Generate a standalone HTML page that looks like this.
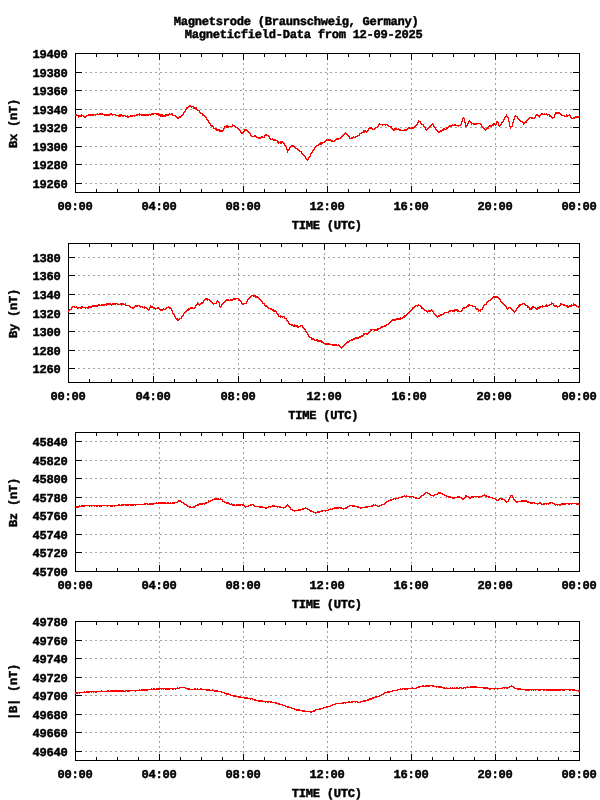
<!DOCTYPE html>
<html lang="en"><head><meta charset="utf-8"><title>Magnetsrode Magneticfield-Data</title>
<style>
html,body{margin:0;padding:0;background:#fff;}
svg{display:block;}
text{white-space:pre;text-rendering:geometricPrecision;stroke:#000;stroke-width:0.45px;stroke-linejoin:miter;}
</style></head>
<body>
<svg width="600" height="800" viewBox="0 0 600 800" shape-rendering="crispEdges" font-family="Liberation Mono, DejaVu Sans Mono, monospace" font-weight="bold" font-size="12.1" letter-spacing="-0.26" fill="#000">
<rect width="600" height="800" fill="#fff"/>
<text x="173.7" y="25">Magnetsrode (Braunschweig, Germany)</text>
<text x="184.7" y="38">Magneticfield-Data from 12-09-2025</text>
<g stroke="#a0a0a0" stroke-width="1" stroke-dasharray="2 3" fill="none"><line x1="75" y1="72.5" x2="579" y2="72.5"/><line x1="75" y1="90.5" x2="579" y2="90.5"/><line x1="75" y1="109.5" x2="579" y2="109.5"/><line x1="75" y1="127.5" x2="579" y2="127.5"/><line x1="75" y1="146.5" x2="579" y2="146.5"/><line x1="75" y1="164.5" x2="579" y2="164.5"/><line x1="75" y1="183.5" x2="579" y2="183.5"/><line x1="159.5" y1="53" x2="159.5" y2="192"/><line x1="243.5" y1="53" x2="243.5" y2="192"/><line x1="327.5" y1="53" x2="327.5" y2="192"/><line x1="411.5" y1="53" x2="411.5" y2="192"/><line x1="495.5" y1="53" x2="495.5" y2="192"/></g>
<path d="M75.5 53.5H579.5V192.5H75.5ZM75 53.5h7M580 53.5h-7M75 72.5h7M580 72.5h-7M75 90.5h7M580 90.5h-7M75 109.5h7M580 109.5h-7M75 127.5h7M580 127.5h-7M75 146.5h7M580 146.5h-7M75 164.5h7M580 164.5h-7M75 183.5h7M580 183.5h-7M96.5 53v4M96.5 193v-4M117.5 53v4M117.5 193v-4M138.5 53v4M138.5 193v-4M159.5 53v7M159.5 193v-7M180.5 53v4M180.5 193v-4M201.5 53v4M201.5 193v-4M222.5 53v4M222.5 193v-4M243.5 53v7M243.5 193v-7M264.5 53v4M264.5 193v-4M285.5 53v4M285.5 193v-4M306.5 53v4M306.5 193v-4M327.5 53v7M327.5 193v-7M348.5 53v4M348.5 193v-4M369.5 53v4M369.5 193v-4M390.5 53v4M390.5 193v-4M411.5 53v7M411.5 193v-7M432.5 53v4M432.5 193v-4M453.5 53v4M453.5 193v-4M474.5 53v4M474.5 193v-4M495.5 53v7M495.5 193v-7M516.5 53v4M516.5 193v-4M537.5 53v4M537.5 193v-4M558.5 53v4M558.5 193v-4" stroke="#000" stroke-width="1" fill="none"/>
<path d="M75 114h1v2h-1zM76 114h1v2h-1zM77 115h1v1h-1zM78 115h1v3h-1zM79 115h1v2h-1zM80 115h1v2h-1zM81 114h1v3h-1zM82 115h1v1h-1zM83 115h1v2h-1zM84 116h1v2h-1zM85 116h1v2h-1zM86 115h1v2h-1zM87 115h1v1h-1zM88 114h1v2h-1zM89 114h1v2h-1zM90 114h1v2h-1zM91 114h1v2h-1zM92 114h1v2h-1zM93 114h1v2h-1zM94 114h1v1h-1zM95 114h1v2h-1zM96 114h1v1h-1zM97 113h1v2h-1zM98 114h1v1h-1zM99 113h1v2h-1zM100 113h1v2h-1zM101 113h1v2h-1zM102 113h1v2h-1zM103 114h1v1h-1zM104 114h1v2h-1zM105 114h1v2h-1zM106 114h1v2h-1zM107 114h1v2h-1zM108 114h1v2h-1zM109 114h1v2h-1zM110 113h1v2h-1zM111 113h1v2h-1zM112 114h1v2h-1zM113 114h1v1h-1zM114 114h1v1h-1zM115 114h1v2h-1zM116 115h1v1h-1zM117 115h1v1h-1zM118 115h1v2h-1zM119 114h1v3h-1zM120 114h1v3h-1zM121 114h1v2h-1zM122 115h1v2h-1zM123 115h1v2h-1zM124 115h1v1h-1zM125 115h1v2h-1zM126 116h1v1h-1zM127 115h1v3h-1zM128 116h1v2h-1zM129 116h1v1h-1zM130 115h1v2h-1zM131 115h1v2h-1zM132 115h1v2h-1zM133 115h1v1h-1zM134 115h1v2h-1zM135 115h1v1h-1zM136 114h1v2h-1zM137 114h1v2h-1zM138 114h1v1h-1zM139 113h1v3h-1zM140 114h1v1h-1zM141 114h1v2h-1zM142 114h1v2h-1zM143 114h1v2h-1zM144 114h1v2h-1zM145 114h1v2h-1zM146 114h1v2h-1zM147 114h1v2h-1zM148 114h1v2h-1zM149 114h1v1h-1zM150 114h1v2h-1zM151 113h1v2h-1zM152 113h1v2h-1zM153 113h1v2h-1zM154 113h1v1h-1zM155 113h1v1h-1zM156 113h1v2h-1zM157 113h1v2h-1zM158 113h1v3h-1zM159 114h1v2h-1zM160 114h1v3h-1zM161 114h1v3h-1zM162 114h1v3h-1zM163 115h1v2h-1zM164 115h1v2h-1zM165 114h1v3h-1zM166 114h1v2h-1zM167 114h1v2h-1zM168 114h1v2h-1zM169 113h1v2h-1zM170 114h1v1h-1zM171 113h1v2h-1zM172 113h1v3h-1zM173 115h1v1h-1zM174 115h1v1h-1zM175 115h1v2h-1zM176 116h1v2h-1zM177 117h1v2h-1zM178 117h1v2h-1zM179 116h1v2h-1zM180 116h1v2h-1zM181 115h1v2h-1zM182 114h1v2h-1zM183 112h1v3h-1zM184 111h1v2h-1zM185 109h1v3h-1zM186 107h1v3h-1zM187 107h1v2h-1zM188 106h1v2h-1zM189 105h1v2h-1zM190 105h1v2h-1zM191 106h1v2h-1zM192 106h1v1h-1zM193 106h1v3h-1zM194 107h1v2h-1zM195 107h1v2h-1zM196 107h1v3h-1zM197 109h1v2h-1zM198 110h1v1h-1zM199 110h1v3h-1zM200 112h1v2h-1zM201 113h1v1h-1zM202 113h1v3h-1zM203 114h1v2h-1zM204 115h1v2h-1zM205 116h1v2h-1zM206 117h1v3h-1zM207 119h1v2h-1zM208 120h1v3h-1zM209 122h1v2h-1zM210 123h1v3h-1zM211 125h1v2h-1zM212 125h1v2h-1zM213 126h1v3h-1zM214 128h1v1h-1zM215 128h1v2h-1zM216 128h1v3h-1zM217 129h1v2h-1zM218 129h1v2h-1zM219 129h1v3h-1zM220 130h1v2h-1zM221 130h1v2h-1zM222 130h1v2h-1zM223 128h1v3h-1zM224 126h1v3h-1zM225 126h1v1h-1zM226 125h1v3h-1zM227 125h1v3h-1zM228 126h1v2h-1zM229 126h1v1h-1zM230 126h1v1h-1zM231 126h1v1h-1zM232 124h1v3h-1zM233 125h1v1h-1zM234 125h1v2h-1zM235 126h1v2h-1zM236 127h1v1h-1zM237 127h1v2h-1zM238 128h1v2h-1zM239 129h1v2h-1zM240 130h1v3h-1zM241 132h1v2h-1zM242 132h1v2h-1zM243 131h1v2h-1zM244 129h1v3h-1zM245 129h1v2h-1zM246 129h1v2h-1zM247 130h1v2h-1zM248 131h1v2h-1zM249 132h1v2h-1zM250 133h1v3h-1zM251 135h1v2h-1zM252 136h1v1h-1zM253 136h1v1h-1zM254 135h1v2h-1zM255 135h1v2h-1zM256 136h1v2h-1zM257 137h1v1h-1zM258 137h1v2h-1zM259 137h1v2h-1zM260 137h1v2h-1zM261 136h1v2h-1zM262 136h1v2h-1zM263 137h1v1h-1zM264 135h1v3h-1zM265 134h1v2h-1zM266 134h1v2h-1zM267 135h1v1h-1zM268 135h1v2h-1zM269 136h1v3h-1zM270 138h1v2h-1zM271 139h1v1h-1zM272 138h1v2h-1zM273 139h1v2h-1zM274 139h1v2h-1zM275 139h1v2h-1zM276 140h1v1h-1zM277 140h1v3h-1zM278 141h1v3h-1zM279 142h1v1h-1zM280 141h1v3h-1zM281 141h1v3h-1zM282 141h1v2h-1zM283 142h1v2h-1zM284 143h1v3h-1zM285 145h1v2h-1zM286 146h1v4h-1zM287 149h1v4h-1zM288 149h1v2h-1zM289 147h1v3h-1zM290 146h1v2h-1zM291 145h1v2h-1zM292 145h1v2h-1zM293 145h1v2h-1zM294 146h1v2h-1zM295 147h1v2h-1zM296 148h1v1h-1zM297 148h1v2h-1zM298 149h1v2h-1zM299 150h1v2h-1zM300 151h1v1h-1zM301 151h1v3h-1zM302 153h1v2h-1zM303 154h1v2h-1zM304 155h1v2h-1zM305 156h1v3h-1zM306 158h1v2h-1zM307 159h1v2h-1zM308 157h1v3h-1zM309 156h1v2h-1zM310 153h1v4h-1zM311 152h1v2h-1zM312 150h1v3h-1zM313 149h1v2h-1zM314 147h1v3h-1zM315 146h1v2h-1zM316 145h1v2h-1zM317 145h1v1h-1zM318 144h1v2h-1zM319 143h1v2h-1zM320 142h1v3h-1zM321 142h1v3h-1zM322 142h1v2h-1zM323 142h1v1h-1zM324 141h1v2h-1zM325 140h1v2h-1zM326 139h1v2h-1zM327 140h1v1h-1zM328 139h1v2h-1zM329 139h1v2h-1zM330 139h1v2h-1zM331 140h1v2h-1zM332 140h1v2h-1zM333 141h1v1h-1zM334 140h1v2h-1zM335 139h1v2h-1zM336 138h1v2h-1zM337 138h1v2h-1zM338 138h1v2h-1zM339 138h1v1h-1zM340 137h1v2h-1zM341 136h1v2h-1zM342 135h1v2h-1zM343 134h1v2h-1zM344 133h1v2h-1zM345 132h1v2h-1zM346 133h1v2h-1zM347 134h1v2h-1zM348 135h1v2h-1zM349 136h1v3h-1zM350 138h1v1h-1zM351 137h1v2h-1zM352 137h1v2h-1zM353 136h1v2h-1zM354 137h1v1h-1zM355 136h1v2h-1zM356 136h1v1h-1zM357 135h1v2h-1zM358 135h1v1h-1zM359 133h1v3h-1zM360 133h1v1h-1zM361 132h1v2h-1zM362 132h1v1h-1zM363 130h1v3h-1zM364 130h1v3h-1zM365 130h1v2h-1zM366 131h1v2h-1zM367 130h1v2h-1zM368 128h1v3h-1zM369 127h1v2h-1zM370 127h1v2h-1zM371 127h1v2h-1zM372 128h1v2h-1zM373 129h1v1h-1zM374 128h1v2h-1zM375 127h1v2h-1zM376 127h1v1h-1zM377 126h1v2h-1zM378 124h1v3h-1zM379 123h1v2h-1zM380 124h1v1h-1zM381 124h1v1h-1zM382 124h1v2h-1zM383 124h1v1h-1zM384 124h1v1h-1zM385 124h1v2h-1zM386 124h1v1h-1zM387 124h1v2h-1zM388 125h1v2h-1zM389 126h1v1h-1zM390 126h1v2h-1zM391 126h1v3h-1zM392 128h1v2h-1zM393 129h1v2h-1zM394 128h1v3h-1zM395 128h1v2h-1zM396 128h1v2h-1zM397 129h1v1h-1zM398 128h1v2h-1zM399 129h1v2h-1zM400 129h1v2h-1zM401 130h1v1h-1zM402 130h1v1h-1zM403 130h1v1h-1zM404 129h1v2h-1zM405 129h1v2h-1zM406 129h1v2h-1zM407 128h1v2h-1zM408 127h1v2h-1zM409 127h1v2h-1zM410 128h1v1h-1zM411 127h1v2h-1zM412 127h1v2h-1zM413 127h1v2h-1zM414 126h1v2h-1zM415 125h1v2h-1zM416 124h1v2h-1zM417 122h1v3h-1zM418 120h1v3h-1zM419 121h1v1h-1zM420 121h1v3h-1zM421 123h1v2h-1zM422 124h1v1h-1zM423 124h1v3h-1zM424 126h1v2h-1zM425 127h1v3h-1zM426 129h1v2h-1zM427 128h1v2h-1zM428 127h1v2h-1zM429 126h1v2h-1zM430 125h1v2h-1zM431 124h1v2h-1zM432 123h1v2h-1zM433 124h1v3h-1zM434 126h1v2h-1zM435 127h1v3h-1zM436 129h1v2h-1zM437 130h1v2h-1zM438 131h1v2h-1zM439 131h1v2h-1zM440 130h1v2h-1zM441 130h1v2h-1zM442 129h1v2h-1zM443 128h1v3h-1zM444 128h1v2h-1zM445 129h1v1h-1zM446 127h1v3h-1zM447 127h1v2h-1zM448 126h1v2h-1zM449 125h1v2h-1zM450 125h1v2h-1zM451 125h1v2h-1zM452 124h1v2h-1zM453 125h1v1h-1zM454 124h1v2h-1zM455 124h1v2h-1zM456 125h1v1h-1zM457 125h1v1h-1zM458 125h1v2h-1zM459 125h1v1h-1zM460 124h1v2h-1zM461 121h1v4h-1zM462 118h1v4h-1zM463 117h1v2h-1zM464 118h1v5h-1zM465 122h1v5h-1zM466 125h1v2h-1zM467 123h1v3h-1zM468 121h1v3h-1zM469 120h1v2h-1zM470 121h1v2h-1zM471 122h1v3h-1zM472 123h1v1h-1zM473 123h1v2h-1zM474 123h1v2h-1zM475 123h1v2h-1zM476 123h1v2h-1zM477 123h1v1h-1zM478 123h1v1h-1zM479 123h1v1h-1zM480 123h1v2h-1zM481 124h1v3h-1zM482 126h1v2h-1zM483 127h1v2h-1zM484 128h1v2h-1zM485 129h1v2h-1zM486 128h1v2h-1zM487 127h1v2h-1zM488 126h1v3h-1zM489 125h1v2h-1zM490 125h1v2h-1zM491 125h1v2h-1zM492 124h1v2h-1zM493 123h1v3h-1zM494 123h1v2h-1zM495 124h1v2h-1zM496 121h1v4h-1zM497 121h1v2h-1zM498 122h1v4h-1zM499 125h1v2h-1zM500 124h1v2h-1zM501 122h1v3h-1zM502 121h1v2h-1zM503 119h1v3h-1zM504 117h1v3h-1zM505 116h1v2h-1zM506 114h1v3h-1zM507 116h1v2h-1zM508 117h1v5h-1zM509 121h1v6h-1zM510 126h1v3h-1zM511 126h1v1h-1zM512 122h1v5h-1zM513 119h1v4h-1zM514 116h1v4h-1zM515 115h1v2h-1zM516 116h1v1h-1zM517 116h1v3h-1zM518 118h1v2h-1zM519 119h1v2h-1zM520 120h1v2h-1zM521 121h1v1h-1zM522 121h1v2h-1zM523 122h1v3h-1zM524 122h1v2h-1zM525 121h1v2h-1zM526 120h1v3h-1zM527 119h1v2h-1zM528 118h1v2h-1zM529 117h1v2h-1zM530 117h1v1h-1zM531 117h1v2h-1zM532 117h1v2h-1zM533 118h1v1h-1zM534 117h1v2h-1zM535 115h1v3h-1zM536 114h1v2h-1zM537 114h1v2h-1zM538 115h1v2h-1zM539 115h1v3h-1zM540 114h1v2h-1zM541 113h1v2h-1zM542 113h1v2h-1zM543 114h1v1h-1zM544 113h1v2h-1zM545 114h1v1h-1zM546 113h1v2h-1zM547 114h1v2h-1zM548 114h1v1h-1zM549 114h1v3h-1zM550 115h1v2h-1zM551 116h1v2h-1zM552 117h1v2h-1zM553 117h1v1h-1zM554 114h1v4h-1zM555 112h1v3h-1zM556 112h1v2h-1zM557 112h1v2h-1zM558 112h1v2h-1zM559 112h1v2h-1zM560 113h1v2h-1zM561 114h1v2h-1zM562 115h1v1h-1zM563 115h1v1h-1zM564 115h1v2h-1zM565 116h1v1h-1zM566 114h1v3h-1zM567 115h1v2h-1zM568 115h1v1h-1zM569 114h1v2h-1zM570 115h1v3h-1zM571 117h1v2h-1zM572 118h1v1h-1zM573 117h1v2h-1zM574 117h1v2h-1zM575 116h1v2h-1zM576 116h1v2h-1zM577 116h1v2h-1zM578 116h1v2h-1zM579 116h1v1h-1z" fill="#ff0000"/>
<text x="67.5" y="58" text-anchor="end">19400</text><text x="67.5" y="77" text-anchor="end">19380</text><text x="67.5" y="95" text-anchor="end">19360</text><text x="67.5" y="114" text-anchor="end">19340</text><text x="67.5" y="132" text-anchor="end">19320</text><text x="67.5" y="151" text-anchor="end">19300</text><text x="67.5" y="169" text-anchor="end">19280</text><text x="67.5" y="188" text-anchor="end">19260</text><text x="57.6" y="210">00:00</text><text x="141.6" y="210">04:00</text><text x="225.6" y="210">08:00</text><text x="309.6" y="210">12:00</text><text x="393.6" y="210">16:00</text><text x="477.6" y="210">20:00</text><text x="561.6" y="210">00:00</text><text x="291.7" y="229">TIME (UTC)</text><text transform="translate(17 148) rotate(-90)">Bx (nT)</text>
<g stroke="#a0a0a0" stroke-width="1" stroke-dasharray="2 3" fill="none"><line x1="68" y1="257.5" x2="579" y2="257.5"/><line x1="68" y1="275.5" x2="579" y2="275.5"/><line x1="68" y1="294.5" x2="579" y2="294.5"/><line x1="68" y1="313.5" x2="579" y2="313.5"/><line x1="68" y1="331.5" x2="579" y2="331.5"/><line x1="68" y1="350.5" x2="579" y2="350.5"/><line x1="68" y1="368.5" x2="579" y2="368.5"/><line x1="153.5" y1="243" x2="153.5" y2="382"/><line x1="238.5" y1="243" x2="238.5" y2="382"/><line x1="324.5" y1="243" x2="324.5" y2="382"/><line x1="409.5" y1="243" x2="409.5" y2="382"/><line x1="494.5" y1="243" x2="494.5" y2="382"/></g>
<path d="M68.5 243.5H579.5V382.5H68.5ZM68 257.5h7M580 257.5h-7M68 275.5h7M580 275.5h-7M68 294.5h7M580 294.5h-7M68 313.5h7M580 313.5h-7M68 331.5h7M580 331.5h-7M68 350.5h7M580 350.5h-7M68 368.5h7M580 368.5h-7M89.5 243v4M89.5 383v-4M111.5 243v4M111.5 383v-4M132.5 243v4M132.5 383v-4M153.5 243v7M153.5 383v-7M174.5 243v4M174.5 383v-4M196.5 243v4M196.5 383v-4M217.5 243v4M217.5 383v-4M238.5 243v7M238.5 383v-7M260.5 243v4M260.5 383v-4M281.5 243v4M281.5 383v-4M302.5 243v4M302.5 383v-4M324.5 243v7M324.5 383v-7M345.5 243v4M345.5 383v-4M366.5 243v4M366.5 383v-4M387.5 243v4M387.5 383v-4M409.5 243v7M409.5 383v-7M430.5 243v4M430.5 383v-4M451.5 243v4M451.5 383v-4M473.5 243v4M473.5 383v-4M494.5 243v7M494.5 383v-7M515.5 243v4M515.5 383v-4M536.5 243v4M536.5 383v-4M558.5 243v4M558.5 383v-4" stroke="#000" stroke-width="1" fill="none"/>
<path d="M68 310h1v2h-1zM69 309h1v2h-1zM70 309h1v1h-1zM71 307h1v3h-1zM72 306h1v2h-1zM73 306h1v1h-1zM74 306h1v2h-1zM75 307h1v1h-1zM76 306h1v2h-1zM77 307h1v2h-1zM78 307h1v2h-1zM79 307h1v1h-1zM80 307h1v2h-1zM81 306h1v3h-1zM82 306h1v2h-1zM83 307h1v1h-1zM84 307h1v1h-1zM85 307h1v2h-1zM86 307h1v1h-1zM87 307h1v2h-1zM88 306h1v3h-1zM89 306h1v2h-1zM90 306h1v2h-1zM91 306h1v2h-1zM92 305h1v2h-1zM93 305h1v2h-1zM94 305h1v2h-1zM95 305h1v2h-1zM96 305h1v2h-1zM97 305h1v2h-1zM98 304h1v2h-1zM99 304h1v2h-1zM100 305h1v1h-1zM101 304h1v2h-1zM102 304h1v2h-1zM103 304h1v2h-1zM104 304h1v2h-1zM105 304h1v1h-1zM106 303h1v3h-1zM107 303h1v2h-1zM108 303h1v2h-1zM109 303h1v2h-1zM110 303h1v2h-1zM111 304h1v2h-1zM112 303h1v2h-1zM113 303h1v2h-1zM114 303h1v2h-1zM115 303h1v2h-1zM116 303h1v1h-1zM117 303h1v2h-1zM118 304h1v1h-1zM119 304h1v1h-1zM120 303h1v2h-1zM121 303h1v3h-1zM122 303h1v2h-1zM123 303h1v2h-1zM124 304h1v1h-1zM125 303h1v3h-1zM126 305h1v1h-1zM127 305h1v1h-1zM128 305h1v1h-1zM129 305h1v2h-1zM130 306h1v2h-1zM131 307h1v1h-1zM132 307h1v2h-1zM133 307h1v2h-1zM134 306h1v2h-1zM135 305h1v2h-1zM136 305h1v2h-1zM137 305h1v2h-1zM138 305h1v1h-1zM139 305h1v2h-1zM140 306h1v2h-1zM141 306h1v1h-1zM142 306h1v2h-1zM143 307h1v1h-1zM144 306h1v3h-1zM145 307h1v1h-1zM146 307h1v2h-1zM147 308h1v2h-1zM148 309h1v2h-1zM149 307h1v3h-1zM150 305h1v3h-1zM151 306h1v2h-1zM152 306h1v2h-1zM153 307h1v2h-1zM154 307h1v2h-1zM155 308h1v2h-1zM156 308h1v1h-1zM157 307h1v2h-1zM158 307h1v2h-1zM159 308h1v2h-1zM160 309h1v2h-1zM161 309h1v2h-1zM162 309h1v2h-1zM163 308h1v2h-1zM164 309h1v1h-1zM165 308h1v2h-1zM166 307h1v2h-1zM167 307h1v1h-1zM168 306h1v2h-1zM169 307h1v2h-1zM170 307h1v2h-1zM171 308h1v3h-1zM172 310h1v4h-1zM173 313h1v2h-1zM174 314h1v3h-1zM175 316h1v3h-1zM176 318h1v2h-1zM177 318h1v3h-1zM178 319h1v2h-1zM179 318h1v2h-1zM180 318h1v1h-1zM181 316h1v3h-1zM182 315h1v2h-1zM183 313h1v3h-1zM184 312h1v2h-1zM185 311h1v2h-1zM186 310h1v2h-1zM187 309h1v2h-1zM188 308h1v3h-1zM189 308h1v2h-1zM190 307h1v2h-1zM191 307h1v2h-1zM192 307h1v2h-1zM193 308h1v1h-1zM194 307h1v2h-1zM195 305h1v3h-1zM196 304h1v2h-1zM197 302h1v3h-1zM198 303h1v2h-1zM199 304h1v2h-1zM200 303h1v2h-1zM201 302h1v2h-1zM202 302h1v2h-1zM203 300h1v3h-1zM204 299h1v2h-1zM205 298h1v2h-1zM206 298h1v2h-1zM207 298h1v3h-1zM208 299h1v1h-1zM209 299h1v2h-1zM210 300h1v2h-1zM211 301h1v2h-1zM212 302h1v2h-1zM213 303h1v2h-1zM214 303h1v1h-1zM215 303h1v1h-1zM216 301h1v3h-1zM217 300h1v2h-1zM218 301h1v2h-1zM219 302h1v5h-1zM220 306h1v2h-1zM221 304h1v3h-1zM222 303h1v2h-1zM223 302h1v2h-1zM224 301h1v2h-1zM225 300h1v2h-1zM226 299h1v2h-1zM227 299h1v2h-1zM228 299h1v2h-1zM229 300h1v1h-1zM230 299h1v2h-1zM231 299h1v2h-1zM232 299h1v2h-1zM233 298h1v2h-1zM234 298h1v2h-1zM235 298h1v2h-1zM236 298h1v1h-1zM237 298h1v1h-1zM238 298h1v3h-1zM239 299h1v2h-1zM240 300h1v2h-1zM241 301h1v3h-1zM242 303h1v2h-1zM243 303h1v2h-1zM244 303h1v1h-1zM245 303h1v1h-1zM246 301h1v3h-1zM247 299h1v3h-1zM248 298h1v2h-1zM249 297h1v2h-1zM250 296h1v2h-1zM251 295h1v2h-1zM252 295h1v1h-1zM253 295h1v2h-1zM254 295h1v2h-1zM255 295h1v3h-1zM256 296h1v2h-1zM257 296h1v2h-1zM258 297h1v2h-1zM259 298h1v2h-1zM260 299h1v2h-1zM261 300h1v2h-1zM262 301h1v3h-1zM263 303h1v1h-1zM264 303h1v3h-1zM265 305h1v2h-1zM266 305h1v2h-1zM267 306h1v2h-1zM268 307h1v2h-1zM269 308h1v1h-1zM270 308h1v2h-1zM271 308h1v2h-1zM272 309h1v2h-1zM273 309h1v3h-1zM274 310h1v2h-1zM275 310h1v2h-1zM276 311h1v3h-1zM277 313h1v2h-1zM278 314h1v3h-1zM279 316h1v1h-1zM280 315h1v3h-1zM281 316h1v1h-1zM282 316h1v2h-1zM283 316h1v1h-1zM284 316h1v3h-1zM285 318h1v1h-1zM286 318h1v3h-1zM287 320h1v2h-1zM288 321h1v3h-1zM289 323h1v2h-1zM290 324h1v1h-1zM291 324h1v2h-1zM292 324h1v2h-1zM293 325h1v2h-1zM294 324h1v3h-1zM295 325h1v2h-1zM296 325h1v2h-1zM297 325h1v3h-1zM298 326h1v2h-1zM299 326h1v1h-1zM300 325h1v2h-1zM301 325h1v1h-1zM302 325h1v3h-1zM303 327h1v2h-1zM304 328h1v2h-1zM305 329h1v3h-1zM306 331h1v2h-1zM307 332h1v3h-1zM308 334h1v3h-1zM309 336h1v2h-1zM310 337h1v1h-1zM311 337h1v3h-1zM312 338h1v2h-1zM313 338h1v2h-1zM314 339h1v2h-1zM315 340h1v1h-1zM316 339h1v2h-1zM317 339h1v3h-1zM318 340h1v2h-1zM319 340h1v2h-1zM320 340h1v2h-1zM321 340h1v3h-1zM322 341h1v2h-1zM323 342h1v2h-1zM324 343h1v1h-1zM325 343h1v2h-1zM326 343h1v2h-1zM327 343h1v2h-1zM328 343h1v2h-1zM329 343h1v2h-1zM330 344h1v1h-1zM331 344h1v1h-1zM332 344h1v2h-1zM333 344h1v2h-1zM334 344h1v2h-1zM335 344h1v2h-1zM336 344h1v2h-1zM337 345h1v1h-1zM338 344h1v2h-1zM339 345h1v2h-1zM340 346h1v2h-1zM341 347h1v2h-1zM342 346h1v2h-1zM343 345h1v2h-1zM344 344h1v2h-1zM345 343h1v2h-1zM346 342h1v2h-1zM347 341h1v2h-1zM348 341h1v2h-1zM349 340h1v2h-1zM350 340h1v1h-1zM351 339h1v2h-1zM352 339h1v2h-1zM353 338h1v2h-1zM354 338h1v2h-1zM355 337h1v2h-1zM356 337h1v2h-1zM357 337h1v2h-1zM358 337h1v2h-1zM359 336h1v2h-1zM360 336h1v2h-1zM361 335h1v2h-1zM362 335h1v2h-1zM363 333h1v3h-1zM364 333h1v2h-1zM365 333h1v1h-1zM366 333h1v2h-1zM367 333h1v2h-1zM368 332h1v2h-1zM369 331h1v2h-1zM370 329h1v3h-1zM371 329h1v2h-1zM372 329h1v1h-1zM373 329h1v1h-1zM374 329h1v2h-1zM375 329h1v2h-1zM376 329h1v2h-1zM377 328h1v3h-1zM378 328h1v2h-1zM379 328h1v1h-1zM380 327h1v2h-1zM381 326h1v2h-1zM382 326h1v2h-1zM383 326h1v1h-1zM384 325h1v2h-1zM385 325h1v2h-1zM386 324h1v2h-1zM387 324h1v1h-1zM388 323h1v2h-1zM389 322h1v2h-1zM390 321h1v2h-1zM391 320h1v2h-1zM392 319h1v2h-1zM393 319h1v2h-1zM394 319h1v2h-1zM395 319h1v2h-1zM396 318h1v2h-1zM397 318h1v2h-1zM398 318h1v2h-1zM399 318h1v2h-1zM400 317h1v3h-1zM401 318h1v1h-1zM402 317h1v2h-1zM403 316h1v2h-1zM404 315h1v3h-1zM405 315h1v2h-1zM406 314h1v2h-1zM407 313h1v2h-1zM408 312h1v2h-1zM409 311h1v2h-1zM410 310h1v2h-1zM411 309h1v2h-1zM412 307h1v3h-1zM413 307h1v2h-1zM414 306h1v2h-1zM415 305h1v2h-1zM416 305h1v1h-1zM417 305h1v2h-1zM418 304h1v2h-1zM419 305h1v1h-1zM420 305h1v2h-1zM421 306h1v3h-1zM422 307h1v2h-1zM423 308h1v2h-1zM424 309h1v2h-1zM425 310h1v1h-1zM426 310h1v2h-1zM427 311h1v2h-1zM428 310h1v2h-1zM429 310h1v2h-1zM430 310h1v2h-1zM431 309h1v2h-1zM432 310h1v2h-1zM433 311h1v3h-1zM434 313h1v2h-1zM435 314h1v2h-1zM436 315h1v2h-1zM437 316h1v2h-1zM438 315h1v2h-1zM439 315h1v2h-1zM440 314h1v2h-1zM441 314h1v2h-1zM442 314h1v1h-1zM443 313h1v2h-1zM444 312h1v2h-1zM445 312h1v1h-1zM446 312h1v1h-1zM447 312h1v1h-1zM448 311h1v2h-1zM449 310h1v2h-1zM450 310h1v2h-1zM451 310h1v1h-1zM452 310h1v2h-1zM453 310h1v2h-1zM454 309h1v3h-1zM455 309h1v2h-1zM456 309h1v2h-1zM457 309h1v3h-1zM458 310h1v2h-1zM459 311h1v1h-1zM460 311h1v1h-1zM461 310h1v2h-1zM462 308h1v3h-1zM463 307h1v2h-1zM464 307h1v2h-1zM465 307h1v1h-1zM466 306h1v2h-1zM467 305h1v2h-1zM468 304h1v3h-1zM469 304h1v2h-1zM470 305h1v1h-1zM471 305h1v1h-1zM472 305h1v2h-1zM473 306h1v1h-1zM474 306h1v1h-1zM475 306h1v3h-1zM476 308h1v2h-1zM477 308h1v2h-1zM478 309h1v3h-1zM479 310h1v1h-1zM480 309h1v3h-1zM481 309h1v1h-1zM482 307h1v3h-1zM483 305h1v3h-1zM484 304h1v2h-1zM485 304h1v1h-1zM486 302h1v3h-1zM487 301h1v2h-1zM488 300h1v2h-1zM489 300h1v1h-1zM490 299h1v2h-1zM491 298h1v2h-1zM492 297h1v2h-1zM493 296h1v2h-1zM494 296h1v2h-1zM495 296h1v2h-1zM496 296h1v2h-1zM497 296h1v2h-1zM498 297h1v2h-1zM499 298h1v2h-1zM500 299h1v3h-1zM501 301h1v2h-1zM502 302h1v2h-1zM503 303h1v2h-1zM504 304h1v2h-1zM505 305h1v2h-1zM506 306h1v3h-1zM507 308h1v2h-1zM508 307h1v2h-1zM509 307h1v1h-1zM510 307h1v2h-1zM511 308h1v2h-1zM512 309h1v2h-1zM513 310h1v2h-1zM514 311h1v2h-1zM515 310h1v2h-1zM516 308h1v3h-1zM517 307h1v2h-1zM518 305h1v3h-1zM519 304h1v3h-1zM520 304h1v2h-1zM521 304h1v1h-1zM522 303h1v2h-1zM523 303h1v1h-1zM524 303h1v2h-1zM525 304h1v2h-1zM526 305h1v1h-1zM527 305h1v3h-1zM528 306h1v2h-1zM529 307h1v3h-1zM530 308h1v2h-1zM531 307h1v3h-1zM532 306h1v3h-1zM533 306h1v2h-1zM534 307h1v1h-1zM535 307h1v2h-1zM536 308h1v2h-1zM537 307h1v3h-1zM538 307h1v2h-1zM539 306h1v3h-1zM540 306h1v2h-1zM541 306h1v1h-1zM542 305h1v3h-1zM543 306h1v1h-1zM544 306h1v1h-1zM545 305h1v2h-1zM546 304h1v3h-1zM547 305h1v2h-1zM548 305h1v1h-1zM549 304h1v2h-1zM550 304h1v1h-1zM551 302h1v3h-1zM552 303h1v1h-1zM553 303h1v3h-1zM554 305h1v2h-1zM555 305h1v2h-1zM556 305h1v2h-1zM557 306h1v2h-1zM558 306h1v1h-1zM559 305h1v2h-1zM560 303h1v3h-1zM561 303h1v2h-1zM562 304h1v1h-1zM563 304h1v2h-1zM564 304h1v2h-1zM565 305h1v1h-1zM566 305h1v2h-1zM567 305h1v3h-1zM568 306h1v2h-1zM569 305h1v2h-1zM570 305h1v2h-1zM571 304h1v3h-1zM572 305h1v1h-1zM573 303h1v3h-1zM574 304h1v2h-1zM575 304h1v2h-1zM576 305h1v2h-1zM577 306h1v1h-1zM578 306h1v2h-1zM579 307h1v2h-1z" fill="#ff0000"/>
<text x="60.5" y="262" text-anchor="end">1380</text><text x="60.5" y="280" text-anchor="end">1360</text><text x="60.5" y="299" text-anchor="end">1340</text><text x="60.5" y="318" text-anchor="end">1320</text><text x="60.5" y="336" text-anchor="end">1300</text><text x="60.5" y="355" text-anchor="end">1280</text><text x="60.5" y="373" text-anchor="end">1260</text><text x="50.6" y="400">00:00</text><text x="135.6" y="400">04:00</text><text x="220.6" y="400">08:00</text><text x="306.6" y="400">12:00</text><text x="391.6" y="400">16:00</text><text x="476.6" y="400">20:00</text><text x="561.6" y="400">00:00</text><text x="288.2" y="419">TIME (UTC)</text><text transform="translate(17 338) rotate(-90)">By (nT)</text>
<g stroke="#a0a0a0" stroke-width="1" stroke-dasharray="2 3" fill="none"><line x1="75" y1="441.5" x2="579" y2="441.5"/><line x1="75" y1="460.5" x2="579" y2="460.5"/><line x1="75" y1="478.5" x2="579" y2="478.5"/><line x1="75" y1="497.5" x2="579" y2="497.5"/><line x1="75" y1="515.5" x2="579" y2="515.5"/><line x1="75" y1="534.5" x2="579" y2="534.5"/><line x1="75" y1="552.5" x2="579" y2="552.5"/><line x1="159.5" y1="432" x2="159.5" y2="571"/><line x1="243.5" y1="432" x2="243.5" y2="571"/><line x1="327.5" y1="432" x2="327.5" y2="571"/><line x1="411.5" y1="432" x2="411.5" y2="571"/><line x1="495.5" y1="432" x2="495.5" y2="571"/></g>
<path d="M75.5 432.5H579.5V571.5H75.5ZM75 441.5h7M580 441.5h-7M75 460.5h7M580 460.5h-7M75 478.5h7M580 478.5h-7M75 497.5h7M580 497.5h-7M75 515.5h7M580 515.5h-7M75 534.5h7M580 534.5h-7M75 552.5h7M580 552.5h-7M75 571.5h7M580 571.5h-7M96.5 432v4M96.5 572v-4M117.5 432v4M117.5 572v-4M138.5 432v4M138.5 572v-4M159.5 432v7M159.5 572v-7M180.5 432v4M180.5 572v-4M201.5 432v4M201.5 572v-4M222.5 432v4M222.5 572v-4M243.5 432v7M243.5 572v-7M264.5 432v4M264.5 572v-4M285.5 432v4M285.5 572v-4M306.5 432v4M306.5 572v-4M327.5 432v7M327.5 572v-7M348.5 432v4M348.5 572v-4M369.5 432v4M369.5 572v-4M390.5 432v4M390.5 572v-4M411.5 432v7M411.5 572v-7M432.5 432v4M432.5 572v-4M453.5 432v4M453.5 572v-4M474.5 432v4M474.5 572v-4M495.5 432v7M495.5 572v-7M516.5 432v4M516.5 572v-4M537.5 432v4M537.5 572v-4M558.5 432v4M558.5 572v-4" stroke="#000" stroke-width="1" fill="none"/>
<path d="M75 506h1v1h-1zM76 506h1v2h-1zM77 506h1v2h-1zM78 506h1v2h-1zM79 505h1v2h-1zM80 506h1v1h-1zM81 505h1v2h-1zM82 505h1v2h-1zM83 505h1v2h-1zM84 505h1v2h-1zM85 505h1v1h-1zM86 505h1v1h-1zM87 505h1v1h-1zM88 505h1v1h-1zM89 505h1v2h-1zM90 505h1v1h-1zM91 505h1v2h-1zM92 505h1v1h-1zM93 505h1v1h-1zM94 505h1v2h-1zM95 505h1v1h-1zM96 505h1v2h-1zM97 505h1v2h-1zM98 505h1v1h-1zM99 505h1v2h-1zM100 505h1v2h-1zM101 505h1v2h-1zM102 505h1v1h-1zM103 505h1v1h-1zM104 505h1v1h-1zM105 505h1v1h-1zM106 505h1v1h-1zM107 505h1v2h-1zM108 505h1v1h-1zM109 505h1v1h-1zM110 505h1v2h-1zM111 505h1v2h-1zM112 505h1v2h-1zM113 505h1v1h-1zM114 505h1v2h-1zM115 505h1v1h-1zM116 505h1v1h-1zM117 505h1v1h-1zM118 504h1v2h-1zM119 504h1v2h-1zM120 505h1v1h-1zM121 504h1v2h-1zM122 504h1v2h-1zM123 504h1v2h-1zM124 504h1v1h-1zM125 504h1v2h-1zM126 504h1v2h-1zM127 504h1v2h-1zM128 504h1v2h-1zM129 504h1v1h-1zM130 504h1v2h-1zM131 504h1v2h-1zM132 504h1v2h-1zM133 504h1v2h-1zM134 504h1v1h-1zM135 504h1v2h-1zM136 504h1v1h-1zM137 504h1v1h-1zM138 504h1v1h-1zM139 504h1v1h-1zM140 504h1v1h-1zM141 504h1v1h-1zM142 504h1v1h-1zM143 504h1v1h-1zM144 503h1v2h-1zM145 503h1v2h-1zM146 503h1v1h-1zM147 503h1v2h-1zM148 504h1v1h-1zM149 503h1v2h-1zM150 503h1v2h-1zM151 503h1v2h-1zM152 503h1v2h-1zM153 503h1v2h-1zM154 503h1v1h-1zM155 503h1v1h-1zM156 502h1v2h-1zM157 503h1v1h-1zM158 502h1v2h-1zM159 502h1v2h-1zM160 502h1v2h-1zM161 502h1v2h-1zM162 502h1v2h-1zM163 502h1v2h-1zM164 502h1v2h-1zM165 502h1v2h-1zM166 503h1v1h-1zM167 502h1v2h-1zM168 502h1v2h-1zM169 503h1v1h-1zM170 502h1v2h-1zM171 503h1v1h-1zM172 502h1v2h-1zM173 502h1v2h-1zM174 502h1v2h-1zM175 502h1v1h-1zM176 502h1v1h-1zM177 501h1v2h-1zM178 500h1v2h-1zM179 500h1v2h-1zM180 500h1v2h-1zM181 501h1v2h-1zM182 502h1v1h-1zM183 502h1v2h-1zM184 503h1v2h-1zM185 504h1v1h-1zM186 504h1v2h-1zM187 505h1v2h-1zM188 506h1v1h-1zM189 506h1v2h-1zM190 506h1v2h-1zM191 507h1v1h-1zM192 507h1v1h-1zM193 506h1v2h-1zM194 506h1v2h-1zM195 505h1v2h-1zM196 505h1v1h-1zM197 504h1v2h-1zM198 504h1v2h-1zM199 503h1v2h-1zM200 503h1v2h-1zM201 503h1v2h-1zM202 503h1v2h-1zM203 503h1v1h-1zM204 503h1v2h-1zM205 502h1v2h-1zM206 502h1v2h-1zM207 502h1v1h-1zM208 500h1v3h-1zM209 501h1v1h-1zM210 500h1v2h-1zM211 500h1v1h-1zM212 499h1v2h-1zM213 499h1v1h-1zM214 498h1v2h-1zM215 498h1v2h-1zM216 498h1v2h-1zM217 498h1v2h-1zM218 498h1v2h-1zM219 499h1v1h-1zM220 498h1v2h-1zM221 499h1v1h-1zM222 499h1v3h-1zM223 501h1v1h-1zM224 501h1v2h-1zM225 502h1v1h-1zM226 502h1v2h-1zM227 502h1v2h-1zM228 502h1v2h-1zM229 503h1v2h-1zM230 504h1v1h-1zM231 503h1v2h-1zM232 504h1v2h-1zM233 504h1v2h-1zM234 504h1v2h-1zM235 505h1v1h-1zM236 504h1v2h-1zM237 504h1v2h-1zM238 504h1v2h-1zM239 504h1v2h-1zM240 504h1v2h-1zM241 504h1v1h-1zM242 504h1v2h-1zM243 504h1v2h-1zM244 505h1v2h-1zM245 506h1v2h-1zM246 506h1v1h-1zM247 506h1v1h-1zM248 505h1v2h-1zM249 505h1v1h-1zM250 504h1v2h-1zM251 504h1v2h-1zM252 504h1v1h-1zM253 504h1v2h-1zM254 505h1v2h-1zM255 506h1v1h-1zM256 506h1v1h-1zM257 506h1v1h-1zM258 506h1v1h-1zM259 506h1v2h-1zM260 506h1v2h-1zM261 506h1v2h-1zM262 506h1v2h-1zM263 507h1v1h-1zM264 507h1v1h-1zM265 507h1v2h-1zM266 507h1v2h-1zM267 507h1v1h-1zM268 506h1v2h-1zM269 506h1v1h-1zM270 506h1v2h-1zM271 506h1v1h-1zM272 505h1v2h-1zM273 505h1v2h-1zM274 505h1v2h-1zM275 506h1v1h-1zM276 506h1v1h-1zM277 506h1v2h-1zM278 506h1v1h-1zM279 506h1v2h-1zM280 506h1v2h-1zM281 507h1v1h-1zM282 507h1v1h-1zM283 507h1v2h-1zM284 507h1v1h-1zM285 506h1v2h-1zM286 505h1v2h-1zM287 504h1v2h-1zM288 505h1v2h-1zM289 506h1v2h-1zM290 507h1v3h-1zM291 509h1v1h-1zM292 509h1v2h-1zM293 510h1v1h-1zM294 510h1v2h-1zM295 510h1v1h-1zM296 510h1v1h-1zM297 510h1v1h-1zM298 509h1v2h-1zM299 509h1v2h-1zM300 509h1v2h-1zM301 509h1v1h-1zM302 508h1v2h-1zM303 508h1v2h-1zM304 508h1v1h-1zM305 507h1v2h-1zM306 508h1v1h-1zM307 508h1v2h-1zM308 509h1v1h-1zM309 509h1v2h-1zM310 510h1v2h-1zM311 510h1v2h-1zM312 511h1v1h-1zM313 511h1v2h-1zM314 512h1v1h-1zM315 512h1v2h-1zM316 512h1v1h-1zM317 511h1v2h-1zM318 511h1v2h-1zM319 511h1v2h-1zM320 511h1v1h-1zM321 510h1v2h-1zM322 510h1v2h-1zM323 510h1v1h-1zM324 510h1v1h-1zM325 510h1v2h-1zM326 510h1v1h-1zM327 510h1v1h-1zM328 509h1v2h-1zM329 509h1v1h-1zM330 508h1v2h-1zM331 509h1v1h-1zM332 508h1v2h-1zM333 508h1v1h-1zM334 507h1v2h-1zM335 507h1v2h-1zM336 507h1v2h-1zM337 507h1v2h-1zM338 507h1v2h-1zM339 507h1v1h-1zM340 507h1v2h-1zM341 507h1v2h-1zM342 508h1v1h-1zM343 508h1v2h-1zM344 508h1v1h-1zM345 507h1v2h-1zM346 507h1v2h-1zM347 506h1v2h-1zM348 506h1v1h-1zM349 505h1v2h-1zM350 505h1v1h-1zM351 505h1v1h-1zM352 505h1v2h-1zM353 505h1v2h-1zM354 505h1v2h-1zM355 506h1v1h-1zM356 506h1v1h-1zM357 506h1v2h-1zM358 506h1v2h-1zM359 507h1v1h-1zM360 507h1v2h-1zM361 507h1v2h-1zM362 507h1v1h-1zM363 507h1v1h-1zM364 507h1v1h-1zM365 506h1v2h-1zM366 506h1v2h-1zM367 506h1v2h-1zM368 506h1v1h-1zM369 506h1v1h-1zM370 506h1v1h-1zM371 505h1v2h-1zM372 505h1v2h-1zM373 504h1v2h-1zM374 505h1v1h-1zM375 504h1v2h-1zM376 505h1v1h-1zM377 505h1v2h-1zM378 506h1v1h-1zM379 505h1v2h-1zM380 505h1v1h-1zM381 504h1v2h-1zM382 504h1v1h-1zM383 504h1v1h-1zM384 503h1v2h-1zM385 502h1v2h-1zM386 501h1v2h-1zM387 501h1v1h-1zM388 500h1v2h-1zM389 500h1v1h-1zM390 499h1v2h-1zM391 499h1v2h-1zM392 499h1v1h-1zM393 498h1v2h-1zM394 498h1v1h-1zM395 498h1v2h-1zM396 498h1v1h-1zM397 498h1v1h-1zM398 497h1v2h-1zM399 497h1v1h-1zM400 497h1v1h-1zM401 496h1v2h-1zM402 496h1v2h-1zM403 496h1v1h-1zM404 495h1v2h-1zM405 496h1v1h-1zM406 495h1v2h-1zM407 496h1v1h-1zM408 496h1v1h-1zM409 496h1v2h-1zM410 496h1v1h-1zM411 496h1v2h-1zM412 496h1v1h-1zM413 496h1v2h-1zM414 497h1v1h-1zM415 497h1v2h-1zM416 497h1v2h-1zM417 498h1v1h-1zM418 498h1v1h-1zM419 497h1v2h-1zM420 496h1v2h-1zM421 495h1v2h-1zM422 495h1v1h-1zM423 494h1v2h-1zM424 493h1v2h-1zM425 492h1v2h-1zM426 492h1v1h-1zM427 492h1v2h-1zM428 493h1v1h-1zM429 493h1v2h-1zM430 494h1v2h-1zM431 495h1v1h-1zM432 495h1v1h-1zM433 495h1v2h-1zM434 494h1v2h-1zM435 494h1v1h-1zM436 494h1v1h-1zM437 493h1v2h-1zM438 492h1v2h-1zM439 492h1v2h-1zM440 492h1v2h-1zM441 493h1v1h-1zM442 493h1v2h-1zM443 494h1v1h-1zM444 494h1v2h-1zM445 495h1v1h-1zM446 495h1v2h-1zM447 496h1v1h-1zM448 496h1v2h-1zM449 496h1v2h-1zM450 496h1v2h-1zM451 497h1v1h-1zM452 497h1v2h-1zM453 497h1v2h-1zM454 497h1v2h-1zM455 497h1v1h-1zM456 497h1v1h-1zM457 496h1v2h-1zM458 496h1v2h-1zM459 496h1v2h-1zM460 497h1v1h-1zM461 497h1v2h-1zM462 498h1v2h-1zM463 498h1v2h-1zM464 497h1v2h-1zM465 495h1v3h-1zM466 495h1v2h-1zM467 496h1v1h-1zM468 496h1v2h-1zM469 497h1v2h-1zM470 497h1v2h-1zM471 496h1v2h-1zM472 496h1v2h-1zM473 496h1v2h-1zM474 496h1v1h-1zM475 496h1v1h-1zM476 496h1v1h-1zM477 496h1v1h-1zM478 496h1v2h-1zM479 496h1v2h-1zM480 496h1v1h-1zM481 496h1v1h-1zM482 495h1v2h-1zM483 495h1v1h-1zM484 494h1v2h-1zM485 495h1v2h-1zM486 495h1v2h-1zM487 496h1v1h-1zM488 496h1v2h-1zM489 496h1v2h-1zM490 497h1v1h-1zM491 497h1v1h-1zM492 497h1v2h-1zM493 498h1v1h-1zM494 498h1v1h-1zM495 498h1v2h-1zM496 499h1v2h-1zM497 500h1v1h-1zM498 499h1v2h-1zM499 498h1v2h-1zM500 498h1v1h-1zM501 498h1v2h-1zM502 498h1v2h-1zM503 499h1v1h-1zM504 499h1v2h-1zM505 500h1v2h-1zM506 501h1v2h-1zM507 501h1v1h-1zM508 499h1v3h-1zM509 497h1v3h-1zM510 495h1v3h-1zM511 495h1v1h-1zM512 495h1v3h-1zM513 497h1v3h-1zM514 499h1v2h-1zM515 500h1v2h-1zM516 501h1v2h-1zM517 501h1v2h-1zM518 501h1v1h-1zM519 501h1v1h-1zM520 501h1v1h-1zM521 500h1v2h-1zM522 500h1v2h-1zM523 500h1v2h-1zM524 500h1v2h-1zM525 500h1v2h-1zM526 500h1v2h-1zM527 501h1v2h-1zM528 501h1v2h-1zM529 502h1v1h-1zM530 502h1v2h-1zM531 502h1v2h-1zM532 502h1v2h-1zM533 502h1v1h-1zM534 502h1v2h-1zM535 503h1v1h-1zM536 503h1v1h-1zM537 503h1v2h-1zM538 503h1v1h-1zM539 502h1v2h-1zM540 502h1v2h-1zM541 503h1v2h-1zM542 504h1v1h-1zM543 503h1v2h-1zM544 503h1v2h-1zM545 503h1v1h-1zM546 503h1v2h-1zM547 503h1v1h-1zM548 503h1v2h-1zM549 502h1v2h-1zM550 502h1v2h-1zM551 502h1v1h-1zM552 502h1v2h-1zM553 503h1v1h-1zM554 503h1v2h-1zM555 504h1v2h-1zM556 504h1v1h-1zM557 504h1v2h-1zM558 504h1v1h-1zM559 504h1v2h-1zM560 504h1v2h-1zM561 503h1v2h-1zM562 503h1v2h-1zM563 503h1v2h-1zM564 503h1v2h-1zM565 503h1v2h-1zM566 503h1v1h-1zM567 503h1v1h-1zM568 503h1v2h-1zM569 503h1v2h-1zM570 503h1v1h-1zM571 503h1v2h-1zM572 503h1v1h-1zM573 503h1v1h-1zM574 503h1v1h-1zM575 503h1v1h-1zM576 503h1v2h-1zM577 503h1v2h-1zM578 503h1v2h-1zM579 504h1v1h-1z" fill="#ff0000"/>
<text x="67.5" y="446" text-anchor="end">45840</text><text x="67.5" y="465" text-anchor="end">45820</text><text x="67.5" y="483" text-anchor="end">45800</text><text x="67.5" y="502" text-anchor="end">45780</text><text x="67.5" y="520" text-anchor="end">45760</text><text x="67.5" y="539" text-anchor="end">45740</text><text x="67.5" y="557" text-anchor="end">45720</text><text x="67.5" y="576" text-anchor="end">45700</text><text x="57.6" y="589">00:00</text><text x="141.6" y="589">04:00</text><text x="225.6" y="589">08:00</text><text x="309.6" y="589">12:00</text><text x="393.6" y="589">16:00</text><text x="477.6" y="589">20:00</text><text x="561.6" y="589">00:00</text><text x="291.7" y="608">TIME (UTC)</text><text transform="translate(17 527) rotate(-90)">Bz (nT)</text>
<g stroke="#a0a0a0" stroke-width="1" stroke-dasharray="2 3" fill="none"><line x1="75" y1="640.5" x2="579" y2="640.5"/><line x1="75" y1="658.5" x2="579" y2="658.5"/><line x1="75" y1="677.5" x2="579" y2="677.5"/><line x1="75" y1="695.5" x2="579" y2="695.5"/><line x1="75" y1="714.5" x2="579" y2="714.5"/><line x1="75" y1="732.5" x2="579" y2="732.5"/><line x1="75" y1="751.5" x2="579" y2="751.5"/><line x1="159.5" y1="621" x2="159.5" y2="760"/><line x1="243.5" y1="621" x2="243.5" y2="760"/><line x1="327.5" y1="621" x2="327.5" y2="760"/><line x1="411.5" y1="621" x2="411.5" y2="760"/><line x1="495.5" y1="621" x2="495.5" y2="760"/></g>
<path d="M75.5 621.5H579.5V760.5H75.5ZM75 621.5h7M580 621.5h-7M75 640.5h7M580 640.5h-7M75 658.5h7M580 658.5h-7M75 677.5h7M580 677.5h-7M75 695.5h7M580 695.5h-7M75 714.5h7M580 714.5h-7M75 732.5h7M580 732.5h-7M75 751.5h7M580 751.5h-7M96.5 621v4M96.5 761v-4M117.5 621v4M117.5 761v-4M138.5 621v4M138.5 761v-4M159.5 621v7M159.5 761v-7M180.5 621v4M180.5 761v-4M201.5 621v4M201.5 761v-4M222.5 621v4M222.5 761v-4M243.5 621v7M243.5 761v-7M264.5 621v4M264.5 761v-4M285.5 621v4M285.5 761v-4M306.5 621v4M306.5 761v-4M327.5 621v7M327.5 761v-7M348.5 621v4M348.5 761v-4M369.5 621v4M369.5 761v-4M390.5 621v4M390.5 761v-4M411.5 621v7M411.5 761v-7M432.5 621v4M432.5 761v-4M453.5 621v4M453.5 761v-4M474.5 621v4M474.5 761v-4M495.5 621v7M495.5 761v-7M516.5 621v4M516.5 761v-4M537.5 621v4M537.5 761v-4M558.5 621v4M558.5 761v-4" stroke="#000" stroke-width="1" fill="none"/>
<path d="M75 692h1v2h-1zM76 692h1v2h-1zM77 692h1v2h-1zM78 692h1v1h-1zM79 692h1v2h-1zM80 692h1v1h-1zM81 692h1v1h-1zM82 692h1v1h-1zM83 692h1v1h-1zM84 691h1v2h-1zM85 692h1v1h-1zM86 691h1v2h-1zM87 691h1v2h-1zM88 691h1v2h-1zM89 691h1v2h-1zM90 691h1v1h-1zM91 691h1v2h-1zM92 691h1v1h-1zM93 691h1v2h-1zM94 691h1v1h-1zM95 691h1v2h-1zM96 691h1v2h-1zM97 691h1v1h-1zM98 691h1v1h-1zM99 691h1v1h-1zM100 691h1v1h-1zM101 690h1v2h-1zM102 691h1v1h-1zM103 691h1v1h-1zM104 691h1v1h-1zM105 691h1v1h-1zM106 691h1v1h-1zM107 690h1v2h-1zM108 690h1v2h-1zM109 691h1v1h-1zM110 690h1v2h-1zM111 690h1v2h-1zM112 690h1v2h-1zM113 690h1v2h-1zM114 690h1v2h-1zM115 690h1v2h-1zM116 690h1v2h-1zM117 690h1v2h-1zM118 690h1v2h-1zM119 690h1v2h-1zM120 690h1v2h-1zM121 690h1v2h-1zM122 690h1v2h-1zM123 690h1v2h-1zM124 691h1v1h-1zM125 690h1v2h-1zM126 690h1v1h-1zM127 690h1v2h-1zM128 690h1v2h-1zM129 690h1v2h-1zM130 690h1v1h-1zM131 690h1v1h-1zM132 690h1v1h-1zM133 690h1v1h-1zM134 690h1v1h-1zM135 690h1v2h-1zM136 690h1v1h-1zM137 690h1v1h-1zM138 690h1v1h-1zM139 689h1v2h-1zM140 690h1v1h-1zM141 689h1v2h-1zM142 689h1v2h-1zM143 689h1v2h-1zM144 689h1v2h-1zM145 689h1v2h-1zM146 689h1v2h-1zM147 689h1v2h-1zM148 689h1v1h-1zM149 689h1v1h-1zM150 689h1v1h-1zM151 688h1v2h-1zM152 689h1v1h-1zM153 688h1v2h-1zM154 688h1v2h-1zM155 689h1v1h-1zM156 688h1v2h-1zM157 688h1v2h-1zM158 688h1v2h-1zM159 688h1v2h-1zM160 688h1v1h-1zM161 688h1v2h-1zM162 688h1v1h-1zM163 688h1v2h-1zM164 688h1v1h-1zM165 688h1v2h-1zM166 688h1v2h-1zM167 688h1v2h-1zM168 688h1v2h-1zM169 688h1v2h-1zM170 688h1v1h-1zM171 688h1v1h-1zM172 688h1v2h-1zM173 688h1v2h-1zM174 688h1v1h-1zM175 688h1v2h-1zM176 688h1v1h-1zM177 687h1v2h-1zM178 688h1v1h-1zM179 687h1v2h-1zM180 687h1v1h-1zM181 687h1v1h-1zM182 687h1v1h-1zM183 687h1v1h-1zM184 687h1v1h-1zM185 687h1v2h-1zM186 688h1v1h-1zM187 688h1v2h-1zM188 688h1v2h-1zM189 688h1v2h-1zM190 689h1v1h-1zM191 689h1v1h-1zM192 689h1v1h-1zM193 689h1v1h-1zM194 688h1v2h-1zM195 688h1v2h-1zM196 689h1v1h-1zM197 688h1v2h-1zM198 689h1v1h-1zM199 689h1v1h-1zM200 688h1v2h-1zM201 688h1v2h-1zM202 689h1v1h-1zM203 689h1v1h-1zM204 689h1v1h-1zM205 689h1v1h-1zM206 689h1v2h-1zM207 689h1v2h-1zM208 689h1v2h-1zM209 689h1v2h-1zM210 690h1v1h-1zM211 690h1v1h-1zM212 689h1v2h-1zM213 690h1v1h-1zM214 690h1v2h-1zM215 690h1v2h-1zM216 690h1v2h-1zM217 690h1v2h-1zM218 691h1v1h-1zM219 691h1v1h-1zM220 691h1v1h-1zM221 691h1v2h-1zM222 692h1v1h-1zM223 692h1v1h-1zM224 692h1v2h-1zM225 693h1v1h-1zM226 693h1v2h-1zM227 693h1v2h-1zM228 693h1v2h-1zM229 694h1v1h-1zM230 694h1v2h-1zM231 695h1v1h-1zM232 695h1v1h-1zM233 695h1v2h-1zM234 695h1v2h-1zM235 695h1v2h-1zM236 696h1v1h-1zM237 696h1v1h-1zM238 696h1v2h-1zM239 696h1v2h-1zM240 696h1v2h-1zM241 697h1v1h-1zM242 697h1v1h-1zM243 697h1v1h-1zM244 697h1v2h-1zM245 697h1v2h-1zM246 697h1v2h-1zM247 697h1v2h-1zM248 698h1v1h-1zM249 698h1v1h-1zM250 698h1v2h-1zM251 698h1v1h-1zM252 698h1v2h-1zM253 699h1v1h-1zM254 699h1v2h-1zM255 699h1v2h-1zM256 700h1v1h-1zM257 700h1v1h-1zM258 700h1v2h-1zM259 700h1v2h-1zM260 700h1v2h-1zM261 700h1v2h-1zM262 700h1v2h-1zM263 701h1v1h-1zM264 701h1v1h-1zM265 701h1v2h-1zM266 701h1v1h-1zM267 701h1v2h-1zM268 701h1v2h-1zM269 701h1v1h-1zM270 701h1v2h-1zM271 701h1v2h-1zM272 702h1v1h-1zM273 702h1v1h-1zM274 702h1v1h-1zM275 702h1v2h-1zM276 702h1v2h-1zM277 703h1v1h-1zM278 703h1v2h-1zM279 703h1v2h-1zM280 704h1v1h-1zM281 704h1v1h-1zM282 704h1v2h-1zM283 705h1v1h-1zM284 705h1v1h-1zM285 705h1v2h-1zM286 706h1v1h-1zM287 706h1v2h-1zM288 706h1v2h-1zM289 707h1v1h-1zM290 707h1v1h-1zM291 707h1v2h-1zM292 708h1v1h-1zM293 708h1v1h-1zM294 708h1v2h-1zM295 709h1v1h-1zM296 709h1v2h-1zM297 709h1v2h-1zM298 709h1v2h-1zM299 709h1v2h-1zM300 710h1v1h-1zM301 710h1v1h-1zM302 710h1v2h-1zM303 710h1v2h-1zM304 710h1v2h-1zM305 711h1v1h-1zM306 711h1v1h-1zM307 711h1v1h-1zM308 711h1v1h-1zM309 711h1v1h-1zM310 711h1v2h-1zM311 711h1v2h-1zM312 711h1v1h-1zM313 710h1v2h-1zM314 710h1v2h-1zM315 709h1v2h-1zM316 709h1v1h-1zM317 709h1v1h-1zM318 709h1v1h-1zM319 708h1v2h-1zM320 708h1v2h-1zM321 708h1v1h-1zM322 708h1v1h-1zM323 707h1v2h-1zM324 707h1v1h-1zM325 707h1v1h-1zM326 706h1v2h-1zM327 706h1v2h-1zM328 706h1v1h-1zM329 706h1v1h-1zM330 705h1v2h-1zM331 705h1v1h-1zM332 704h1v2h-1zM333 704h1v1h-1zM334 704h1v1h-1zM335 703h1v2h-1zM336 703h1v1h-1zM337 703h1v1h-1zM338 703h1v1h-1zM339 703h1v1h-1zM340 703h1v1h-1zM341 703h1v1h-1zM342 702h1v2h-1zM343 702h1v2h-1zM344 702h1v1h-1zM345 702h1v2h-1zM346 702h1v1h-1zM347 702h1v1h-1zM348 701h1v2h-1zM349 701h1v2h-1zM350 702h1v1h-1zM351 701h1v2h-1zM352 701h1v2h-1zM353 701h1v1h-1zM354 701h1v1h-1zM355 701h1v2h-1zM356 701h1v1h-1zM357 701h1v2h-1zM358 702h1v1h-1zM359 702h1v1h-1zM360 701h1v2h-1zM361 701h1v1h-1zM362 701h1v1h-1zM363 700h1v2h-1zM364 700h1v2h-1zM365 700h1v2h-1zM366 700h1v1h-1zM367 699h1v2h-1zM368 699h1v2h-1zM369 698h1v2h-1zM370 698h1v2h-1zM371 698h1v2h-1zM372 697h1v2h-1zM373 697h1v2h-1zM374 697h1v1h-1zM375 696h1v2h-1zM376 696h1v2h-1zM377 696h1v1h-1zM378 696h1v1h-1zM379 695h1v2h-1zM380 695h1v1h-1zM381 694h1v2h-1zM382 694h1v1h-1zM383 693h1v2h-1zM384 692h1v2h-1zM385 692h1v1h-1zM386 692h1v1h-1zM387 691h1v2h-1zM388 691h1v2h-1zM389 691h1v2h-1zM390 691h1v1h-1zM391 691h1v1h-1zM392 690h1v2h-1zM393 690h1v1h-1zM394 690h1v1h-1zM395 690h1v1h-1zM396 690h1v1h-1zM397 689h1v2h-1zM398 689h1v1h-1zM399 689h1v1h-1zM400 688h1v2h-1zM401 689h1v1h-1zM402 688h1v2h-1zM403 688h1v1h-1zM404 688h1v2h-1zM405 688h1v2h-1zM406 688h1v2h-1zM407 688h1v2h-1zM408 688h1v1h-1zM409 688h1v1h-1zM410 688h1v1h-1zM411 688h1v1h-1zM412 687h1v2h-1zM413 688h1v1h-1zM414 688h1v1h-1zM415 688h1v1h-1zM416 687h1v2h-1zM417 687h1v1h-1zM418 686h1v2h-1zM419 686h1v2h-1zM420 686h1v1h-1zM421 686h1v1h-1zM422 685h1v2h-1zM423 685h1v2h-1zM424 686h1v1h-1zM425 685h1v2h-1zM426 685h1v2h-1zM427 685h1v2h-1zM428 685h1v2h-1zM429 685h1v2h-1zM430 685h1v1h-1zM431 685h1v1h-1zM432 685h1v2h-1zM433 685h1v2h-1zM434 686h1v1h-1zM435 686h1v1h-1zM436 686h1v2h-1zM437 686h1v1h-1zM438 686h1v2h-1zM439 686h1v2h-1zM440 686h1v2h-1zM441 686h1v2h-1zM442 687h1v1h-1zM443 687h1v2h-1zM444 687h1v2h-1zM445 688h1v1h-1zM446 687h1v2h-1zM447 688h1v1h-1zM448 688h1v1h-1zM449 688h1v1h-1zM450 687h1v2h-1zM451 688h1v1h-1zM452 687h1v2h-1zM453 688h1v1h-1zM454 687h1v2h-1zM455 688h1v1h-1zM456 687h1v2h-1zM457 687h1v2h-1zM458 688h1v1h-1zM459 687h1v2h-1zM460 687h1v1h-1zM461 687h1v2h-1zM462 688h1v1h-1zM463 687h1v2h-1zM464 687h1v1h-1zM465 687h1v2h-1zM466 687h1v1h-1zM467 686h1v2h-1zM468 687h1v1h-1zM469 687h1v1h-1zM470 686h1v2h-1zM471 686h1v2h-1zM472 686h1v2h-1zM473 686h1v2h-1zM474 686h1v2h-1zM475 686h1v2h-1zM476 686h1v2h-1zM477 687h1v1h-1zM478 687h1v1h-1zM479 687h1v1h-1zM480 687h1v1h-1zM481 687h1v1h-1zM482 687h1v1h-1zM483 687h1v2h-1zM484 687h1v2h-1zM485 687h1v2h-1zM486 687h1v2h-1zM487 687h1v2h-1zM488 688h1v1h-1zM489 688h1v2h-1zM490 688h1v2h-1zM491 688h1v1h-1zM492 688h1v1h-1zM493 688h1v1h-1zM494 688h1v2h-1zM495 688h1v1h-1zM496 688h1v1h-1zM497 688h1v2h-1zM498 688h1v1h-1zM499 688h1v1h-1zM500 688h1v1h-1zM501 688h1v1h-1zM502 687h1v2h-1zM503 687h1v1h-1zM504 687h1v2h-1zM505 687h1v1h-1zM506 687h1v2h-1zM507 687h1v2h-1zM508 687h1v1h-1zM509 686h1v2h-1zM510 686h1v1h-1zM511 685h1v2h-1zM512 686h1v1h-1zM513 686h1v2h-1zM514 687h1v2h-1zM515 688h1v1h-1zM516 688h1v1h-1zM517 688h1v2h-1zM518 688h1v2h-1zM519 688h1v2h-1zM520 688h1v2h-1zM521 689h1v1h-1zM522 689h1v1h-1zM523 689h1v1h-1zM524 689h1v1h-1zM525 689h1v2h-1zM526 689h1v2h-1zM527 689h1v2h-1zM528 689h1v2h-1zM529 689h1v2h-1zM530 689h1v1h-1zM531 689h1v2h-1zM532 689h1v1h-1zM533 689h1v2h-1zM534 689h1v1h-1zM535 689h1v2h-1zM536 689h1v1h-1zM537 689h1v1h-1zM538 689h1v2h-1zM539 689h1v2h-1zM540 689h1v2h-1zM541 689h1v1h-1zM542 689h1v1h-1zM543 689h1v2h-1zM544 689h1v2h-1zM545 689h1v1h-1zM546 689h1v2h-1zM547 689h1v2h-1zM548 689h1v2h-1zM549 689h1v2h-1zM550 689h1v2h-1zM551 689h1v2h-1zM552 689h1v2h-1zM553 689h1v2h-1zM554 689h1v2h-1zM555 689h1v2h-1zM556 689h1v2h-1zM557 689h1v2h-1zM558 689h1v2h-1zM559 689h1v2h-1zM560 689h1v2h-1zM561 689h1v1h-1zM562 689h1v2h-1zM563 689h1v2h-1zM564 689h1v2h-1zM565 689h1v1h-1zM566 689h1v1h-1zM567 689h1v1h-1zM568 689h1v1h-1zM569 689h1v2h-1zM570 689h1v2h-1zM571 689h1v1h-1zM572 689h1v2h-1zM573 689h1v2h-1zM574 689h1v2h-1zM575 690h1v1h-1zM576 690h1v1h-1zM577 690h1v1h-1zM578 690h1v2h-1zM579 690h1v2h-1z" fill="#ff0000"/>
<text x="67.5" y="626" text-anchor="end">49780</text><text x="67.5" y="645" text-anchor="end">49760</text><text x="67.5" y="663" text-anchor="end">49740</text><text x="67.5" y="682" text-anchor="end">49720</text><text x="67.5" y="700" text-anchor="end">49700</text><text x="67.5" y="719" text-anchor="end">49680</text><text x="67.5" y="737" text-anchor="end">49660</text><text x="67.5" y="756" text-anchor="end">49640</text><text x="57.6" y="778">00:00</text><text x="141.6" y="778">04:00</text><text x="225.6" y="778">08:00</text><text x="309.6" y="778">12:00</text><text x="393.6" y="778">16:00</text><text x="477.6" y="778">20:00</text><text x="561.6" y="778">00:00</text><text x="291.7" y="797">TIME (UTC)</text><text transform="translate(17 720) rotate(-90)">|B| (nT)</text>
</svg>
</body></html>
